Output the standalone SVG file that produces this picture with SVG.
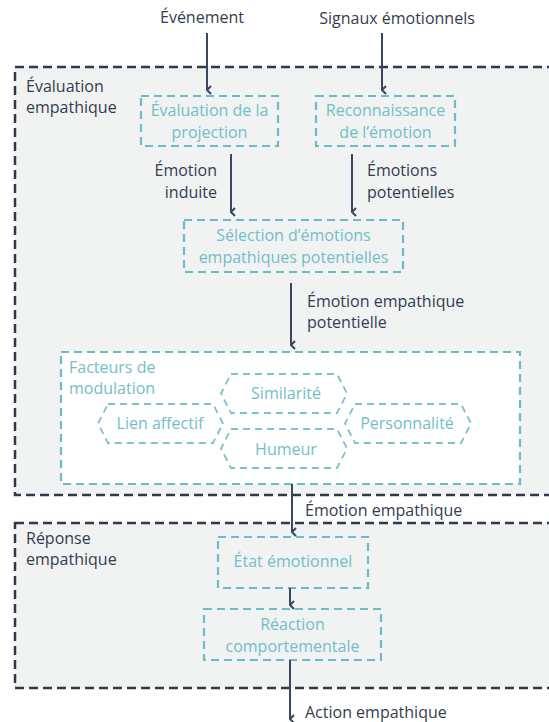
<svg xmlns="http://www.w3.org/2000/svg" width="549" height="722" viewBox="0 0 549 722">
<style>
text{font-family:"Open Sans","Liberation Sans",sans-serif;font-size:16px}
.dk{fill:#343c4f}
.tl{fill:#72bec7}
.outer{fill:#f1f2f2;stroke:#2f394b;stroke-width:2.5;stroke-dasharray:9 5}
.box{fill:none;stroke:#6cbcc5;stroke-width:2.2;stroke-dasharray:8 5}
.mod{fill:#ffffff;stroke:#6cbcc5;stroke-width:2.2;stroke-dasharray:8 5}
.hex{fill:none;stroke:#7cc2ca;stroke-width:1.8;stroke-dasharray:7 5}
.ar{fill:none;stroke:#3b4660;stroke-width:2;marker-end:url(#ah)}
</style>
<defs>
<marker id="ah" viewBox="0 0 10 10" refX="5" refY="9" markerWidth="10" markerHeight="10" markerUnits="userSpaceOnUse" orient="auto-start-reverse">
<path d="M1,5 L5,9 L9,5" fill="none" stroke="#3b4660" stroke-width="2"/>
</marker>
</defs>
<rect width="549" height="722" fill="#ffffff"/>
<g id="zone-evaluation">
<rect class="outer" x="15" y="67" width="545" height="428"/>
<text class="dk" x="26" y="92">Évaluation</text>
<text class="dk" x="26" y="113">empathique</text>
</g>
<g id="zone-reponse">
<rect class="outer" x="15" y="523" width="545" height="165"/>
<text class="dk" x="26" y="544">Réponse</text>
<text class="dk" x="26" y="565">empathique</text>
</g>
<g id="n-evenement"><text class="dk" x="202" y="23" text-anchor="middle">Événement</text></g>
<g id="n-signaux"><text class="dk" x="397" y="24" text-anchor="middle">Signaux émotionnels</text></g>
<g id="n-projection">
<rect class="box" x="141" y="96" width="137" height="50"/>
<text class="tl" x="209.5" y="116" text-anchor="middle">Évaluation de la</text>
<text class="tl" x="209.5" y="138" text-anchor="middle">projection</text>
</g>
<g id="n-reconnaissance">
<rect class="box" x="316" y="96" width="139" height="50"/>
<text class="tl" x="385.5" y="116" text-anchor="middle">Reconnaissance</text>
<text class="tl" x="385.5" y="138" text-anchor="middle">de l’émotion</text>
</g>
<g id="n-selection">
<rect class="box" x="184" y="220" width="219" height="52"/>
<text class="tl" x="293.5" y="241" text-anchor="middle">Sélection d’émotions</text>
<text class="tl" x="293.5" y="263" text-anchor="middle">empathiques potentielles</text>
</g>
<g id="n-modulation">
<rect class="mod" x="61" y="352" width="459" height="132"/>
<text class="tl" x="69" y="373">Facteurs de</text>
<text class="tl" x="69" y="394">modulation</text>
</g>
<g id="n-similarite">
<path class="hex" d="M231,374 L337,374 L347,393.5 L337,413 L231,413 L221,393.5 Z"/>
<text class="tl" x="286" y="399" text-anchor="middle">Similarité</text>
</g>
<g id="n-lien">
<path class="hex" d="M108,404 L213,404 L223,423.5 L213,443 L108,443 L98,423.5 Z"/>
<text class="tl" x="160" y="429" text-anchor="middle">Lien affectif</text>
</g>
<g id="n-humeur">
<path class="hex" d="M231,429 L337,429 L347,448.5 L337,468 L231,468 L221,448.5 Z"/>
<text class="tl" x="286" y="455" text-anchor="middle">Humeur</text>
</g>
<g id="n-personnalite">
<path class="hex" d="M355,404 L461,404 L471,423.5 L461,443 L355,443 L345,423.5 Z"/>
<text class="tl" x="407" y="429" text-anchor="middle">Personnalité</text>
</g>
<g id="n-etat">
<rect class="box" x="218" y="537" width="150" height="51"/>
<text class="tl" x="293" y="567" text-anchor="middle">État émotionnel</text>
</g>
<g id="n-reaction">
<rect class="box" x="204" y="609" width="177" height="51"/>
<text class="tl" x="292.5" y="630" text-anchor="middle">Réaction</text>
<text class="tl" x="292.5" y="652" text-anchor="middle">comportementale</text>
</g>
<g id="n-action"><text class="dk" x="305" y="718">Action empathique</text></g>
<g id="connectors">
<line class="ar" x1="207" y1="33" x2="207" y2="90"/>
<line class="ar" x1="382" y1="33" x2="382" y2="90"/>
<line class="ar" x1="231" y1="154" x2="231" y2="212"/>
<text class="dk" x="217" y="176" text-anchor="end">Émotion</text>
<text class="dk" x="217" y="198" text-anchor="end">induite</text>
<line class="ar" x1="352" y1="154" x2="352" y2="212"/>
<text class="dk" x="367" y="176">Émotions</text>
<text class="dk" x="367" y="198">potentielles</text>
<line class="ar" x1="291" y1="283" x2="291" y2="345"/>
<text class="dk" x="307" y="307">Émotion empathique</text>
<text class="dk" x="307" y="328">potentielle</text>
<line class="ar" x1="292" y1="484" x2="292" y2="532"/>
<text class="dk" x="305" y="516">Émotion empathique</text>
<line class="ar" x1="290" y1="588" x2="290" y2="605"/>
<line class="ar" x1="290" y1="660" x2="290" y2="719"/>
</g>
</svg>
